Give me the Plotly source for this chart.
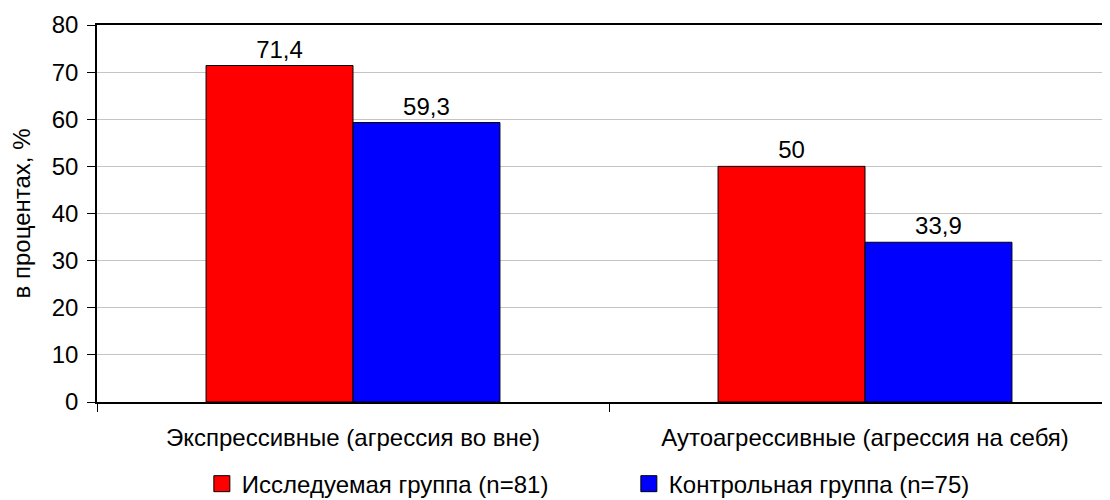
import plotly.graph_objects as go

categories = ["Экспрессивные (агрессия во вне)", "Аутоагрессивные (агрессия на себя)"]
study_values = [71.4, 50]
control_values = [59.3, 33.9]
series_names = ["Исследуемая группа (n=81)", "Контрольная группа (n=75)"]
series_colors = ["#ff0000", "#0000ff"]
y_ticks = [0, 10, 20, 30, 40, 50, 60, 70, 80]

def fmt(v):
    return ("%g" % v).replace(".", ",")

FONT = "Liberation Sans, Arial, sans-serif"
FS = 24

fig = go.Figure()
for vals, name, col in [(study_values, series_names[0], series_colors[0]),
                        (control_values, series_names[1], series_colors[1])]:
    fig.add_trace(go.Bar(
        x=categories, y=vals, name=name, showlegend=False,
        marker=dict(color=col, line=dict(color="black", width=1)),
        text=[fmt(v) for v in vals], textposition="outside",
        textfont=dict(size=FS, color="black", family=FONT), cliponaxis=False,
    ))
# legend entries with square markers
for name, col in zip(series_names, series_colors):
    fig.add_trace(go.Scatter(
        x=[None], y=[None], mode="markers", name=name,
        marker=dict(symbol="square", size=16, color=col, line=dict(color="black", width=1)),
    ))

fig.update_layout(
    width=1102, height=492,
    margin=dict(l=89, r=0, t=17, b=98, autoexpand=False),
    plot_bgcolor="white", paper_bgcolor="white",
    font=dict(family=FONT, size=FS, color="black"),
    barmode="group", bargap=0.426, bargroupgap=0,
    showlegend=True,
    legend=dict(orientation="h", x=0.1035, xanchor="left", y=-0.158, yanchor="top",
                font=dict(size=FS, family=FONT), entrywidth=382, traceorder="normal",
                itemsizing="trace", tracegroupgap=0),
    xaxis=dict(
        range=[-0.5, 1.4785],
        showline=True, linecolor="black", linewidth=1.5, mirror=True,
        ticks="outside", ticklen=8, tickcolor="black", tickson="boundaries",
        showgrid=False, tickfont=dict(size=FS), ticklabelstandoff=13,
    ),
    yaxis=dict(
        range=[0, 80], tickvals=y_ticks, ticks="outside", ticklen=8, tickcolor="black",
        showline=True, linecolor="black", linewidth=1.5,
        showgrid=True, gridcolor="#c4c4c4", gridwidth=1,
        tickfont=dict(size=FS), zeroline=False, ticklabelstandoff=4,
        title=dict(text="в процентах, %", font=dict(size=FS), standoff=22),
    ),
)

fig.write_html("out.html")
